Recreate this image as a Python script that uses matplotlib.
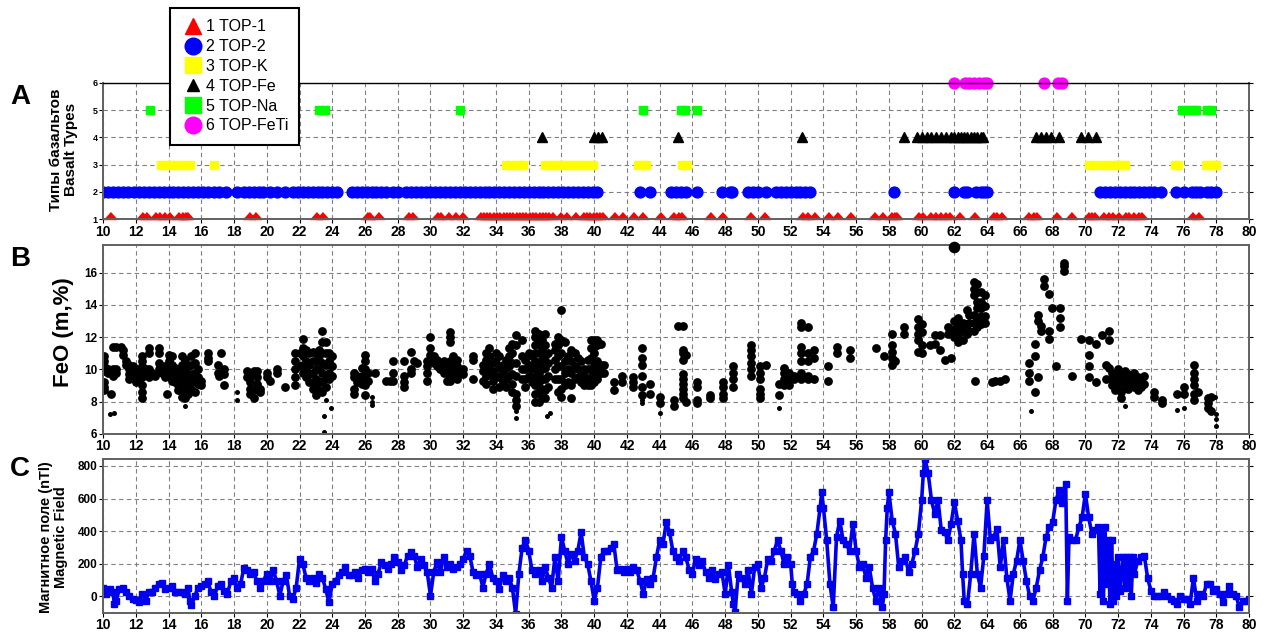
import numpy as np
import matplotlib.pyplot as plt
from matplotlib.lines import Line2D

plt.rcParams['font.family'] = ['Liberation Sans', 'DejaVu Sans']
plt.rcParams['font.weight'] = 'bold'

# ---- panel A: basalt type occurrences along the profile (km) ----
type_labels = ['TOP-1', 'TOP-2', 'TOP-K', 'TOP-Fe', 'TOP-Na', 'TOP-FeTi']

top1_x = [10.4, 12.4, 12.6, 13.2, 13.4, 13.75, 14.05, 14.6, 14.8, 15.0, 15.1,
          18.9, 19.3, 23.0, 23.4, 26.1, 26.25, 26.8, 28.6, 28.9, 30.37, 30.57,
          31.08, 31.49, 31.9, 33.0, 33.2, 33.4, 33.6, 33.8, 34.0, 34.2, 34.4,
          34.6, 34.8, 35.0, 35.2, 35.4, 35.6, 35.8, 36.0, 36.2, 36.4, 36.6,
          36.8, 37.0, 37.2, 37.4, 37.9, 38.3, 38.8, 39.3, 39.5, 39.7, 39.9,
          40.1, 40.3, 40.5, 41.2, 41.7, 42.4, 42.9, 44.0, 44.8, 45.1, 45.3,
          47.1, 47.8, 49.5, 50.4, 52.7, 53.0, 53.4, 54.3, 54.8, 55.65, 57.1,
          57.6, 58.1, 58.3, 58.45, 59.8, 60.0, 60.5, 60.8, 61.1, 61.4, 61.7,
          62.3, 63.2, 64.35, 64.55, 64.85, 66.5, 66.8, 67.0, 68.2, 69.1, 70.15,
          70.35, 70.55, 71.05, 71.4, 71.6, 72.0, 72.4, 72.6, 72.9, 73.2, 73.4,
          76.5, 76.9]
top2_x = [10.0, 10.3, 10.6, 10.9, 11.2, 11.5, 11.9, 12.2, 12.5, 12.8, 13.1,
          13.4, 13.7, 14.0, 14.3, 14.6, 14.9, 15.2, 15.5, 15.8, 16.1, 16.4,
          16.8, 17.1, 17.5, 18.2, 18.6, 18.9, 19.2, 19.5, 19.8, 20.2, 20.6,
          21.1, 21.6, 21.9, 22.2, 22.5, 22.8, 23.1, 23.4, 23.7, 24.0, 24.3,
          25.2, 25.5, 25.8, 26.1, 26.4, 26.7, 27.0, 27.3, 27.7, 28.0, 28.5,
          28.8, 29.1, 29.4, 29.7, 30.0, 30.3, 30.6, 30.9, 31.2, 31.5, 31.8,
          32.1, 32.4, 32.7, 33.0, 33.3, 33.6, 33.9, 34.2, 34.5, 34.8, 35.1,
          35.4, 35.7, 36.0, 36.3, 36.6, 36.9, 37.2, 37.5, 37.8, 38.1, 38.4,
          38.7, 39.0, 39.3, 39.6, 39.9, 40.2, 42.8, 43.4, 44.7, 45.0, 45.3,
          45.6, 46.25, 47.8, 48.3, 48.4, 49.4, 49.7, 50.0, 50.5, 51.1, 51.4,
          51.7, 52.0, 52.3, 52.6, 52.9, 53.2, 58.3, 62.0, 62.6, 62.8, 63.3,
          63.6, 63.8, 64.0, 70.9, 71.2, 71.5, 71.8, 72.1, 72.4, 72.7, 73.0,
          73.3, 73.6, 73.9, 74.2, 74.6, 75.55, 76.05, 76.5, 76.75, 77.0, 77.4,
          77.7, 78.0]
topk_x = [13.55, 13.85, 14.15, 14.45, 14.75, 15.05, 15.3, 16.8, 34.6, 34.9,
          35.2, 35.5, 35.65, 37.0, 37.3, 37.5, 37.8, 38.1, 38.4, 38.7, 39.0,
          39.3, 39.6, 39.9, 42.7, 42.95, 43.15, 45.35, 45.65, 70.25, 70.55,
          71.05, 71.3, 71.75, 72.0, 72.3, 72.45, 75.45, 75.65, 77.35, 77.6,
          77.85, 78.0]
topfe_x = [36.8, 40.0, 40.25, 40.5, 45.1, 52.7, 58.9, 59.7, 60.0, 60.3, 60.6,
           60.9, 61.2, 61.5, 61.8, 62.0, 62.2, 62.4, 62.6, 62.8, 63.0, 63.2,
           63.4, 63.6, 63.75, 67.0, 67.3, 67.6, 67.9, 68.4, 69.75, 70.15, 70.65]
topna_x = [12.85, 23.2, 23.55, 31.8, 43.0, 45.3, 45.55, 46.25, 75.9, 76.2,
           76.5, 76.75, 77.45, 77.65]
topfeti_x = [62.0, 62.65, 62.9, 63.2, 63.5, 63.8, 64.0, 67.5, 68.35, 68.6]

# ---- panel B: FeO (m,%) samples, grouped by position ----
feo_cols = [
    (10.05, [10.8, 10.5, 10.2, 9.9, 9.2, 8.9, 8.7]), (10.3, [10.0, 9.8]),
    (10.5, [8.5]), (10.6, [11.4, 10.0, 9.6]), (10.8, [11.4, 10.0, 9.8]),
    (11.1, [11.4]), (11.2, [11.2, 10.9]), (11.4, [10.5, 10.3]),
    (11.6, [10.3, 10.0, 9.7, 9.4]), (11.8, [10.2]), (12.0, [10.0, 9.8, 9.5, 9.2]),
    (12.2, [9.8, 9.4]), (12.4, [10.8, 10.5, 10.2, 9.5, 9.0, 8.6, 8.2]),
    (12.6, [10.0, 9.7]), (12.8, [11.3, 11.0, 10.0, 9.5]), (13.0, [9.8]),
    (13.2, [9.6]), (13.4, [11.3, 11.0, 10.4, 10.0]), (13.6, [9.8]),
    (13.8, [10.2, 9.8, 9.5]), (13.9, [8.5]), (14.0, [10.9, 10.5, 9.9, 9.6]),
    (14.2, [10.8, 10.3, 9.7, 9.3]), (14.4, [10.1, 9.7, 9.2]),
    (14.6, [10.0, 9.5, 9.0, 8.7]), (14.8, [10.8, 10.3, 9.8, 9.3, 8.8, 8.3]),
    (15.0, [10.6, 10.0, 9.4, 8.8, 8.2]), (15.2, [10.2, 9.6, 9.0, 8.5]),
    (15.4, [10.8, 10.3, 9.7, 9.2, 8.8]), (15.6, [11.0, 10.4, 9.8, 9.3, 8.6]),
    (15.8, [10.0, 9.5, 9.1]), (16.0, [9.3, 9.0]), (16.4, [11.0, 10.7, 10.5]),
    (17.0, [10.3, 9.8]), (17.1, [9.6]), (17.2, [11.0]), (17.4, [10.0, 9.7, 9.0]),
    (18.8, [9.9, 9.5]), (19.0, [9.6, 9.2, 8.8, 8.5]), (19.2, [9.9, 9.7, 8.7, 8.2]),
    (19.4, [9.9, 9.5, 9.1]), (19.6, [8.8, 8.6]), (20.0, [9.8, 9.5]), (20.2, [9.3]),
    (20.6, [10.0, 9.8]), (21.1, [8.9]), (21.7, [11.0, 10.5, 10.0, 9.5, 9.0]),
    (22.0, [11.0, 10.2]), (22.2, [11.9, 11.3, 10.8, 10.3, 9.8]),
    (22.4, [11.2, 10.5, 10.0, 9.5]), (22.6, [11.0, 10.3, 9.7, 9.2]),
    (22.8, [11.1, 10.5, 9.8, 9.2, 8.8]), (23.0, [11.0, 10.5, 10.0, 9.4, 8.9, 8.4]),
    (23.2, [11.2, 10.6, 10.0, 9.3, 8.7]),
    (23.4, [12.4, 11.7, 11.0, 10.4, 9.8, 9.2, 8.6]),
    (23.6, [11.7, 11.0, 10.3, 9.6, 8.9]), (23.8, [11.0, 10.5, 9.8, 9.4]),
    (24.0, [10.8, 10.2, 9.6]), (25.3, [9.8, 9.5, 8.8, 8.5]), (25.5, [9.6, 9.2]),
    (25.8, [10.1, 9.6, 9.1]), (26.0, [10.9, 10.5, 10.0, 9.5, 9.0, 8.4]),
    (26.2, [9.8, 9.3]), (26.6, [9.8]), (27.3, [9.3]), (27.5, [9.3]),
    (27.7, [10.5, 9.8, 9.3]), (28.4, [10.5, 9.6, 9.2, 8.9]),
    (28.8, [11.1, 10.0, 9.8]), (29.0, [10.5]), (29.2, [10.4]),
    (29.8, [10.5, 10.2, 9.8, 9.3]), (30.0, [12.0, 11.3, 10.9, 10.5]),
    (30.2, [10.8, 10.4]), (30.4, [10.6, 10.2]), (30.6, [10.3, 10.0]),
    (30.8, [10.5, 10.2, 9.8]), (31.0, [10.0, 9.3]),
    (31.2, [12.3, 12.0, 11.7, 10.5, 10.0, 9.6, 9.3]), (31.4, [10.8, 10.2, 9.7]),
    (31.6, [10.6, 10.2, 9.8, 9.4]), (32.0, [10.0, 9.7]), (32.6, [10.8, 10.6, 9.4]),
    (33.2, [10.3, 9.9, 9.3]), (33.4, [11.0, 10.6, 10.1, 9.6, 9.1]),
    (33.6, [11.3, 10.8, 10.2, 9.7]), (33.8, [10.5, 9.9, 9.3, 8.8]),
    (34.0, [11.0, 10.4, 9.6]), (34.2, [10.8, 10.1, 9.5, 8.9]),
    (34.4, [10.3, 9.8, 9.2]), (34.6, [10.6, 10.1, 9.4, 8.9]),
    (34.8, [11.3, 10.8, 10.2, 9.6]), (35.0, [11.6, 11.0, 10.4, 9.7, 9.1, 8.6]),
    (35.2, [12.1, 11.5, 10.4, 9.6, 8.5, 8.1, 7.7]), (35.6, [11.8, 10.8, 10.0, 9.4]),
    (35.8, [10.6, 10.0, 9.4, 8.9]), (36.0, [11.0, 10.3, 9.6]),
    (36.2, [10.8, 10.0, 9.2]),
    (36.4, [12.4, 12.0, 11.5, 11.0, 10.5, 10.0, 9.5, 9.0, 8.5, 8.0]),
    (36.6, [12.2, 11.6, 11.0, 10.4, 9.8, 9.2, 8.6, 8.0]),
    (36.8, [11.8, 11.2, 10.6, 10.0, 9.4, 8.8, 8.2]),
    (37.0, [12.2, 11.5, 10.8, 10.1, 9.4, 8.7, 8.2]), (37.2, [11.0, 10.4, 9.6, 8.9]),
    (37.6, [11.6, 11.2, 10.6, 10.0, 9.4]), (37.8, [12.0, 11.5, 10.8, 10.2, 9.4, 8.6]),
    (38.0, [13.7, 11.8, 11.0, 10.2, 9.4, 8.8, 8.3]), (38.2, [11.7, 10.5, 9.8, 9.0]),
    (38.4, [10.8, 10.0, 9.2]), (38.6, [11.2, 10.5, 9.8, 9.0, 8.2]),
    (38.8, [11.0, 10.2, 9.4]), (39.0, [10.7, 10.0, 9.5]), (39.2, [10.5, 9.8, 9.2]),
    (39.4, [10.0, 9.6, 9.0]), (39.6, [10.6, 10.0, 9.4, 9.0]),
    (39.8, [11.8, 11.3, 10.7, 10.0, 9.5, 9.0]),
    (40.0, [11.8, 11.4, 11.0, 10.4, 9.8, 9.2]), (40.2, [11.8, 11.5, 10.5, 10.0, 9.4]),
    (40.4, [11.6, 10.3, 9.8]), (40.6, [10.3, 9.8]), (41.2, [9.2, 8.7]),
    (41.7, [9.6, 9.2]), (42.35, [9.5, 9.2, 8.9]),
    (42.9, [11.3, 10.7, 10.3, 9.6, 8.9, 8.4]), (43.4, [9.1, 8.5]),
    (44.0, [8.3, 7.9]), (44.85, [8.1, 7.7]), (45.1, [12.7]),
    (45.4, [12.7, 11.2, 11.0, 10.6, 9.7, 9.4, 9.1, 8.8, 8.5, 8.2]),
    (45.6, [10.9, 8.0]), (46.25, [9.2, 8.9, 8.1, 7.9]), (47.1, [8.4, 8.2]),
    (47.85, [9.2, 8.9, 8.5, 8.2]), (48.45, [10.2, 9.8, 9.4, 8.9]),
    (49.6, [11.5, 11.2, 10.8, 10.4, 10.0, 9.6]),
    (50.1, [10.2, 9.8, 9.4, 8.8, 8.5, 8.2]), (50.5, [10.3]), (51.3, [9.1, 8.4]),
    (51.6, [10.1, 9.8, 9.4, 9.0]), (51.9, [9.8, 9.4, 9.0]), (52.2, [9.6, 9.4]),
    (52.65, [12.9, 12.6, 11.4, 11.0, 10.5, 9.8, 9.4]),
    (53.05, [12.6, 11.0, 10.5, 9.6, 9.4]), (53.45, [11.2, 10.7, 9.4]),
    (54.3, [10.2, 9.3]), (54.8, [11.4, 11.0]), (55.65, [11.2, 10.7]),
    (57.2, [11.3]), (57.7, [10.8]), (58.2, [12.2, 11.5, 11.1, 10.7, 10.3]),
    (58.4, [10.5]), (58.9, [12.6, 12.2]), (59.8, [13.1, 12.6, 12.2, 11.8, 11.1]),
    (60.05, [12.8, 12.3, 11.5, 11.0]), (60.5, [11.5]), (60.8, [12.1, 11.6]),
    (61.1, [12.1, 11.2]), (61.4, [10.6]), (61.6, [12.6, 12.2]), (61.8, [12.4, 10.7]),
    (62.0, [13.0, 12.5, 12.0]), (62.2, [13.2, 12.7, 12.2, 11.7]),
    (62.5, [12.9, 12.4, 11.8]), (62.75, [13.7, 12.8, 12.2]),
    (62.9, [13.4, 12.9, 12.4]), (63.2, [15.4, 15.0, 14.6, 13.4, 12.9, 12.4]),
    (63.25, [9.3]), (63.4, [15.3, 14.8, 14.2, 13.8, 13.2, 12.6]),
    (63.6, [14.8, 14.2, 13.8, 13.3, 12.8]), (63.85, [14.6, 13.9, 13.3, 12.9]),
    (64.3, [9.2]), (64.5, [9.3]), (64.8, [9.3]), (65.1, [9.4]),
    (66.55, [10.4, 9.8, 9.3]), (66.9, [8.6]), (66.95, [11.6, 10.8]),
    (67.1, [13.4, 13.0, 9.5]), (67.3, [12.7, 12.4]), (67.5, [15.6, 15.2]),
    (67.8, [14.7, 12.4, 11.9]), (67.95, [13.8]), (68.2, [10.2]),
    (68.45, [13.8, 13.2, 12.6]), (68.7, [16.6, 16.4, 16.1]), (69.2, [9.6]),
    (69.75, [11.9]), (70.25, [11.8, 10.9, 10.2, 9.5]), (70.65, [11.6, 9.2]),
    (71.0, [12.1]), (71.25, [10.3, 9.4]), (71.45, [12.4, 11.8, 10.1]),
    (71.6, [9.8, 9.4, 9.0]), (71.8, [9.6, 9.1, 8.7]), (72.0, [10.0, 9.5, 9.2, 8.8]),
    (72.2, [9.8, 9.4, 8.6, 8.2]), (72.4, [9.9, 9.5, 9.0]), (72.6, [9.7, 9.3, 8.8]),
    (72.8, [9.4, 9.0]), (73.0, [9.8, 9.2, 8.9]), (73.2, [9.5, 9.0, 8.7]),
    (73.4, [9.3, 8.9]), (73.6, [9.6, 9.1]), (74.2, [8.6, 8.3]), (74.7, [8.1, 7.9]),
    (75.6, [8.5]), (76.05, [8.9, 8.5]), (76.65, [10.3, 9.8, 9.4, 9.0, 8.5, 8.1]),
    (76.9, [8.6]), (77.5, [8.2, 7.9, 7.6]), (77.7, [8.3, 7.4]),
]
feo_small_x = [10.45, 10.65, 15.0, 18.2, 18.2, 23.5, 23.5, 23.6, 23.9, 26.4, 26.4,
               26.4, 35.2, 35.2, 37.1, 37.3, 42.9, 42.9, 44.0, 51.3, 66.65, 72.4,
               75.6, 76.05, 77.9, 78.0, 78.0, 78.0]
feo_small_y = [7.2, 7.3, 7.7, 8.6, 8.1, 7.1, 6.1, 8.1, 7.6, 8.3, 8.0,
               7.8, 7.4, 7.0, 7.1, 7.3, 8.1, 7.9, 7.3, 7.6, 7.4, 7.7,
               7.5, 7.6, 8.3, 7.2, 6.9, 6.5]
feo_peak = (62.0, 17.6)

# ---- panel C: magnetic field (nTl) along the profile ----
mag_pts = [
    (10.0, 50), (10.2, 15), (10.4, 45), (10.6, 25), (10.7, -45), (10.8, -25),
    (11.0, 45), (11.2, 55), (11.4, 25), (11.6, 0), (11.8, -15), (12.0, -20),
    (12.2, -35), (12.4, 15), (12.6, -25), (12.8, 25), (13.0, 25), (13.2, 55),
    (13.4, 75), (13.6, 85), (13.8, 45), (14.0, 55), (14.2, 65), (14.4, 25),
    (14.6, 25), (14.8, 25), (15.0, 15), (15.2, 55), (15.3, -25), (15.4, -55),
    (15.6, 0), (15.8, 55), (16.0, 65), (16.2, 75), (16.4, 95), (16.6, 25),
    (16.8, 0), (17.0, 65), (17.2, 75), (17.4, 35), (17.6, 15), (17.8, 95),
    (18.0, 115), (18.2, 55), (18.4, 75), (18.6, 175), (18.8, 160), (19.0, 140),
    (19.2, 150), (19.4, 95), (19.6, 55), (19.8, 95), (20.0, 140), (20.2, 95),
    (20.4, 160), (20.6, 95), (20.8, 5), (21.0, 95), (21.2, 130), (21.4, 0),
    (21.6, -15), (21.8, 55), (22.0, 230), (22.2, 200), (22.4, 115), (22.6, 95),
    (22.8, 115), (23.0, 85), (23.2, 140), (23.4, 115), (23.6, 45), (23.8, -35),
    (24.0, 75), (24.2, 95), (24.4, 130), (24.6, 150), (24.8, 180), (25.0, 130),
    (25.2, 130), (25.4, 150), (25.6, 115), (25.8, 160), (26.0, 170), (26.2, 150),
    (26.4, 170), (26.6, 95), (26.8, 140), (27.0, 210), (27.2, 190), (27.4, 170),
    (27.6, 200), (27.8, 240), (28.0, 210), (28.2, 160), (28.4, 190), (28.6, 250),
    (28.8, 270), (29.0, 250), (29.2, 180), (29.4, 230), (29.6, 190), (29.8, 150),
    (30.0, 5), (30.2, 150), (30.4, 210), (30.6, 150), (30.8, 240), (31.0, 180),
    (31.2, 200), (31.4, 170), (31.6, 180), (31.8, 200), (32.0, 230), (32.2, 280),
    (32.4, 250), (32.6, 150), (32.8, 130), (33.0, 140), (33.2, 55), (33.4, 140),
    (33.6, 200), (33.8, 115), (34.0, 95), (34.2, 45), (34.4, 130), (34.6, 95),
    (34.8, 115), (35.0, 55), (35.2, -105), (35.4, 140), (35.6, 300), (35.8, 345),
    (36.0, 280), (36.2, 160), (36.4, 140), (36.6, 160), (36.8, 95), (37.0, 180),
    (37.2, 115), (37.4, 55), (37.6, 240), (37.8, 95), (38.0, 365), (38.2, 280),
    (38.4, 200), (38.6, 260), (38.8, 220), (39.0, 280), (39.2, 395), (39.4, 240),
    (39.6, 200), (39.8, 95), (40.0, -25), (40.2, 55), (40.4, 240), (40.6, 280),
    (40.8, 280), (41.0, 300), (41.2, 320), (41.4, 160), (41.6, 170), (41.8, 150),
    (42.0, 170), (42.2, 150), (42.4, 180), (42.6, 160), (42.8, 95), (43.0, 15),
    (43.2, 110), (43.4, 75), (43.6, 115), (43.8, 240), (44.0, 345), (44.2, 320),
    (44.4, 455), (44.6, 395), (44.8, 280), (45.0, 240), (45.2, 220), (45.4, 280),
    (45.6, 240), (45.8, 160), (46.0, 140), (46.2, 230), (46.4, 190), (46.6, 220),
    (46.8, 150), (47.0, 115), (47.2, 160), (47.4, 110), (47.6, 140), (47.8, 150),
    (48.0, 15), (48.2, 190), (48.4, 25), (48.5, -45), (48.6, -95), (48.8, 140),
    (49.0, 115), (49.2, 75), (49.4, 160), (49.6, 15), (49.8, 180), (50.0, 200),
    (50.2, 55), (50.4, 115), (50.6, 230), (50.8, 220), (51.0, 280), (51.2, 345),
    (51.4, 280), (51.6, 200), (51.8, 240), (52.0, 200), (52.1, 75), (52.2, 25),
    (52.4, 15), (52.6, -25), (52.8, 15), (53.0, 75), (53.2, 240), (53.4, 280),
    (53.6, 385), (53.8, 545), (53.9, 640), (54.0, 545), (54.2, 345), (54.4, 75),
    (54.6, -65), (54.8, 365), (55.0, 465), (55.2, 345), (55.4, 320), (55.6, 280),
    (55.8, 445), (56.0, 280), (56.2, 180), (56.4, 200), (56.6, 115), (56.8, 180),
    (57.0, 55), (57.2, -25), (57.4, 55), (57.6, -65), (57.7, 15), (57.8, 345),
    (57.9, 545), (58.0, 640), (58.2, 465), (58.4, 385), (58.6, 180), (58.8, 220),
    (59.0, 240), (59.2, 150), (59.4, 200), (59.6, 280), (59.8, 385), (60.0, 590),
    (60.1, 755), (60.2, 845), (60.4, 755), (60.6, 590), (60.8, 505), (61.0, 590),
    (61.2, 405), (61.4, 395), (61.6, 345), (61.8, 445), (62.0, 580), (62.2, 465),
    (62.4, 345), (62.5, 140), (62.6, -25), (62.8, -45), (63.0, 140), (63.2, 385),
    (63.4, 140), (63.6, 55), (63.8, 250), (64.0, 590), (64.2, 345), (64.4, 365),
    (64.6, 415), (64.8, 180), (65.0, 345), (65.2, 115), (65.4, -25), (65.6, 140),
    (65.8, 220), (66.0, 345), (66.2, 220), (66.4, 95), (66.6, 0), (66.8, -25),
    (67.0, 55), (67.2, 160), (67.4, 240), (67.6, 365), (67.8, 425), (68.0, 455),
    (68.2, 590), (68.4, 650), (68.6, 570), (68.8, 690), (68.9, -25), (69.0, 365),
    (69.2, 345), (69.4, 345), (69.6, 425), (69.8, 485), (70.0, 630), (70.2, 485),
    (70.4, 385), (70.6, 405), (70.8, 425), (70.9, 15), (71.0, 405), (71.1, -25),
    (71.2, 425), (71.3, 75), (71.4, 345), (71.5, -45), (71.6, 345), (71.7, -25),
    (71.8, 200), (71.9, 0), (72.0, 240), (72.1, 35), (72.2, 140), (72.3, 240),
    (72.4, 55), (72.5, 240), (72.6, 95), (72.7, 240), (72.8, 0), (72.9, 240),
    (73.0, 140), (73.2, 220), (73.4, 240), (73.6, 250), (73.8, 115), (74.0, 35),
    (74.2, 5), (74.4, 0), (74.6, 5), (74.8, 25), (75.0, 5), (75.2, -15),
    (75.4, -25), (75.6, -45), (75.8, 0), (76.0, -15), (76.2, -15), (76.4, -45),
    (76.6, 115), (76.8, -25), (77.0, 15), (77.2, 5), (77.4, 75), (77.6, 75),
    (77.8, 35), (78.0, 45), (78.2, 15), (78.4, -35), (78.6, 15), (78.8, 65),
    (79.0, 15), (79.2, 5), (79.4, -65), (79.6, -25), (79.8, -25), (80.0, -15),
]

xticks = list(range(10, 81, 2))

fig = plt.figure(figsize=(12.72, 6.37), dpi=100)
axA = fig.add_axes([0.081, 0.656, 0.901, 0.214])
axB = fig.add_axes([0.081, 0.319, 0.901, 0.296])
axC = fig.add_axes([0.081, 0.038, 0.901, 0.242])


def style(ax, yticks, ysize):
    ax.set_xlim(10, 80)
    ax.set_xticks(xticks)
    ax.set_yticks(yticks)
    ax.grid(True, color='#808080', ls=(0, (4, 3)), lw=0.8)
    ax.set_axisbelow(True)
    ax.tick_params(axis='x', labelsize=10, length=3, pad=1, width=0.8)
    ax.tick_params(axis='y', labelsize=ysize, length=3, pad=1, width=0.8, right=True)
    for sp in ax.spines.values():
        sp.set_color('#606060')
        sp.set_linewidth(1.4)


# panel A
style(axA, [1, 2, 3, 4, 5, 6], 6.5)
axA.set_ylim(1, 6)
axA.spines['top'].set_color('black')
axA.spines['top'].set_linewidth(1.0)
tri_up = [(-1, 0), (1, 0), (0, 1.1)]
axA.plot(top1_x, [1] * len(top1_x), ls='', marker=tri_up, ms=10, color='#ff0000', mec='#ff0000', clip_on=False)
axA.plot(top2_x, [2] * len(top2_x), ls='', marker='o', ms=7.8, color='#0000ff', mec='#0000ff')
axA.plot(topk_x, [3] * len(topk_x), ls='', marker='s', ms=5.8, color='#ffff00', mec='#ffff00')
axA.plot(topfe_x, [4] * len(topfe_x), ls='', marker='^', ms=7, color='black')
axA.plot(topna_x, [5] * len(topna_x), ls='', marker='s', ms=6.3, color='#00ff00', mec='#00ff00')
axA.plot(topfeti_x, [6] * len(topfeti_x), ls='', marker='o', ms=7.8, color='#ff00ff', mec='#ff00ff', clip_on=False)

# panel B
style(axB, [6, 8, 10, 12, 14, 16], 8.5)
axB.set_ylim(6, 17.7)
feo_x = [x for x, ys in feo_cols for _ in ys]
feo_y = [y for _, ys in feo_cols for y in ys]
axB.scatter(feo_x, feo_y, s=40, color='black', lw=0)
axB.scatter(feo_small_x, feo_small_y, s=13, color='black', lw=0)
axB.scatter([feo_peak[0]], [feo_peak[1]], s=70, color='black', lw=0, clip_on=False, zorder=3)

# panel C
style(axC, [0, 200, 400, 600, 800], 8.5)
axC.set_ylim(-100, 845)
mag_x, mag_y = zip(*mag_pts)
axC.plot(mag_x, mag_y, color='#0000ee', lw=2.6, marker='s', ms=4.6, mec='#0000ee')

# labels
fig.text(0.050, 0.765, 'Типы базальтов\nBasalt Types', rotation=90, ha='center', va='center',
         fontsize=11, weight='bold', linespacing=1.05)
fig.text(0.050, 0.479, 'FeO (m,%)', rotation=90, ha='center', va='center', fontsize=16, weight='bold')
fig.text(0.042, 0.157, 'Магнитное поле (nTl)\nMagnetic Field', rotation=90, ha='center', va='center',
         fontsize=10.5, weight='bold', linespacing=1.05)
fig.text(0.016, 0.847, 'A', fontsize=20, weight='bold', ha='center', va='center')
fig.text(0.016, 0.594, 'B', fontsize=20, weight='bold', ha='center', va='center')
fig.text(0.016, 0.263, 'C', fontsize=20, weight='bold', ha='center', va='center')

# legend
handles = [
    Line2D([], [], ls='', marker='^', ms=12, color='#ff0000'),
    Line2D([], [], ls='', marker='o', ms=12, color='#0000ff'),
    Line2D([], [], ls='', marker='s', ms=12, color='#ffff00'),
    Line2D([], [], ls='', marker='^', ms=8, color='black'),
    Line2D([], [], ls='', marker='s', ms=12, color='#00ff00'),
    Line2D([], [], ls='', marker='o', ms=12, color='#ff00ff'),
]
labels = [f'{i + 1} {t}' for i, t in enumerate(type_labels)]
leg = fig.legend(handles, labels, loc='upper left', bbox_to_anchor=(0.134, 0.987),
                 frameon=True, fancybox=False, edgecolor='black', framealpha=1,
                 prop={'size': 11.5, 'weight': 'normal'}, handletextpad=0.1,
                 labelspacing=0.3, borderpad=0.7, handlelength=1.4, borderaxespad=0)
leg.get_frame().set_linewidth(1.5)

fig.savefig('out.png', dpi=100)
